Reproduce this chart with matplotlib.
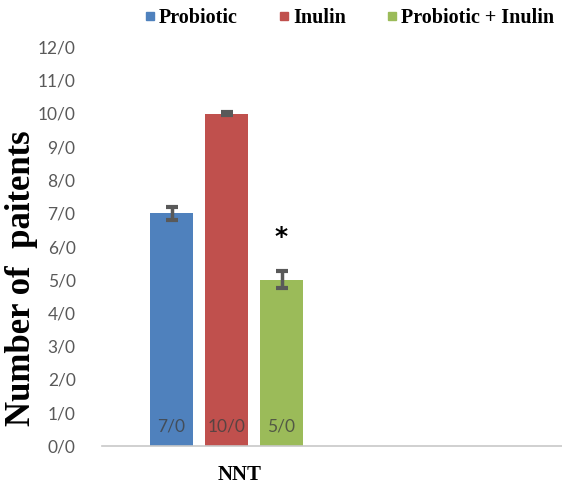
import matplotlib
matplotlib.use("Agg")
import matplotlib.pyplot as plt
import numpy as np

series = ["Probiotic", "Inulin", "Probiotic + Inulin"]
values = [7.0, 10.0, 5.0]
errors = [0.2, 0.05, 0.25]
bar_labels = ["7/0", "10/0", "5/0"]
colors = ["#4F81BD", "#C0504D", "#9BBB59"]
yticks = list(range(0, 13))
ytick_labels = [f"{v}/0" for v in yticks]
category = "NNT"

fig = plt.figure(figsize=(5.62, 4.88), dpi=100)
ax = fig.add_axes([102/562, 42/488, 460/562, 399/488])

x = np.arange(len(values))
width = 0.78
ax.bar(x, values, width=width, color=colors, zorder=2)
ax.errorbar(x, values, yerr=errors, fmt="none", ecolor="#595959",
            elinewidth=2.5, capsize=4, capthick=3, zorder=3)

for xi, lab in zip(x, bar_labels):
    ax.text(xi, 0.6, lab, ha="center", va="center", fontsize=12.5,
            family="Lato", color="#404040", alpha=0.8, zorder=4)

# significance marker
ax.text(x[2], values[2] + 1.3, "*", ha="center", va="center",
        fontsize=18, fontweight="bold", color="black")

ax.set_xlim(-1.264, 7.1)
ax.set_ylim(0, 12)
ax.set_yticks(yticks)
ax.set_yticklabels(ytick_labels, family="Lato", fontsize=12.5, color="#595959")
ax.tick_params(axis="y", length=0, pad=19)
ax.set_xticks([])
for s in ["top", "right", "left"]:
    ax.spines[s].set_visible(False)
ax.spines["bottom"].set_color("#C8C8C8")
ax.spines["bottom"].set_linewidth(1.2)

fig.text(240/562, 1 - 475/488, category, ha="center", va="center",
         family="Liberation Serif", fontweight="bold", fontsize=15)

fig.text(22/562, 1 - 278/488, "Number of  paitents", rotation=90,
         ha="center", va="center", family="Liberation Serif",
         fontweight="bold", fontsize=25)

# legend
handles = [plt.Line2D([], [], marker="s", linestyle="none", markersize=6,
                      color=c) for c in colors]
fig.legend(handles, series, loc="center", bbox_to_anchor=(348/562, 1 - 18/488),
           ncol=3, frameon=False, handletextpad=0.05, columnspacing=1.9,
           handlelength=0.8,
           prop={"family": "Liberation Serif", "weight": "bold", "size": 14.5})

fig.savefig("out.png", dpi=100)
